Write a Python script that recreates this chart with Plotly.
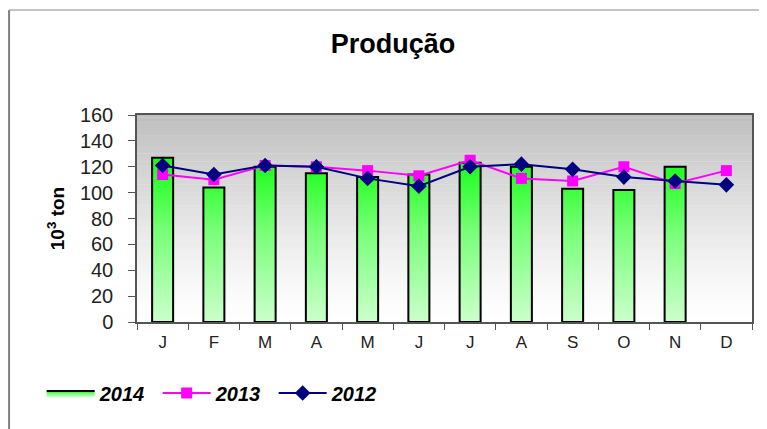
import plotly.graph_objects as go

months = ["J", "F", "M", "A", "M", "J", "J", "A", "S", "O", "N", "D"]
prod_2014 = [127, 104, 120, 115, 112, 114, 123, 120, 103, 102, 120, None]
prod_2013 = [114, 110, 121, 120, 117, 113, 125, 111, 109, 120, 107, 117]
prod_2012 = [121, 114, 121, 120, 111, 105, 120, 122, 118, 112, 109, 106]
y_ticks = [0, 20, 40, 60, 80, 100, 120, 140, 160]

BAR_HALF = 0.205
FONT = "Liberation Sans, Arial, sans-serif"

# bars as filled polygons (to allow vertical gradient fill)
bx, by = [], []
for i, v in enumerate(prod_2014):
    if v is None:
        continue
    bx += [i - BAR_HALF, i - BAR_HALF, i + BAR_HALF, i + BAR_HALF, i - BAR_HALF, None]
    by += [0, v, v, 0, 0, None]

fig = go.Figure()
fig.add_trace(go.Scatter(
    x=bx, y=by, mode="lines", fill="toself", name="2014",
    line=dict(color="black", width=2),
    fillgradient=dict(type="vertical", start=0, stop=128,
                      colorscale=[[0, "#ccffcc"], [0.55, "#77ff77"], [1, "#11ff11"]]),
    hoverinfo="skip",
))
xs = list(range(len(months)))
fig.add_trace(go.Scatter(
    x=xs, y=prod_2013, mode="lines+markers", name="2013",
    line=dict(color="#ff00ff", width=2),
    marker=dict(symbol="square", size=11, color="#ff00ff"),
))
fig.add_trace(go.Scatter(
    x=xs, y=prod_2012, mode="lines+markers", name="2012",
    line=dict(color="#000080", width=2),
    marker=dict(symbol="diamond", size=12, color="#000080"),
))

# plot-area vertical gradient background
shapes = []
N = 80
for k in range(N):
    t = (k + 0.5) / N
    g = int(round(255 - (255 - 190) * (t ** 1.3)))
    shapes.append(dict(type="rect", xref="x domain", yref="y domain",
                       x0=0, x1=1, y0=k / N, y1=(k + 1) / N + 0.002,
                       fillcolor=f"rgb({g},{g},{g})", line=dict(width=0), layer="below"))
# outer frame lines
shapes.append(dict(type="line", xref="paper", yref="paper", x0=-0.208, x1=-0.208,
                   y0=-1, y1=1.507, line=dict(color="#808080", width=2)))
shapes.append(dict(type="line", xref="paper", yref="paper", x0=-0.208, x1=2,
                   y0=1.507, y1=1.507, line=dict(color="#b0b0b0", width=1.5)))

fig.update_layout(
    width=767, height=429,
    margin=dict(l=129, r=23, t=107, b=115, autoexpand=False),
    paper_bgcolor="white", plot_bgcolor="white",
    font=dict(family=FONT, color="black"),
    title=dict(text="<b>Produção</b>", x=0.502, xanchor="center", y=0.916, yanchor="middle",
               font=dict(size=27, family=FONT, color="black")),
    shapes=shapes,
    showlegend=True,
    legend=dict(orientation="h", x=-0.155, xanchor="left", y=-0.343, yanchor="middle",
                font=dict(size=20, family=FONT, weight="bold", style="italic"),
                bgcolor="rgba(0,0,0,0)", itemwidth=48, entrywidth=53, tracegroupgap=0),
    xaxis=dict(
        range=[-0.5, 11.5], tickmode="array", tickvals=xs, ticktext=months,
        ticks="", showgrid=False, zeroline=False, automargin=False,
        showline=True, linecolor="#555555", linewidth=1.5, mirror=True,
        tickfont=dict(size=17, family=FONT, color="#222"), ticklabelstandoff=4,
        minor=dict(tickmode="linear", tick0=-0.5, dtick=1, ticks="outside",
                   ticklen=6, tickcolor="#555555", showgrid=False),
    ),
    yaxis=dict(
        range=[0, 160], tickmode="array", tickvals=y_ticks,
        ticks="outside", ticklen=7, tickcolor="#555555",
        showgrid=False, zeroline=False, automargin=False,
        showline=True, linecolor="#555555", linewidth=1.5, mirror=True,
        tickfont=dict(size=20, family=FONT, color="#222"), ticklabelstandoff=11,
        title=dict(text="<b>10<sup>3</sup> ton</b>", standoff=10,
                   font=dict(size=19, family=FONT, color="black")),
    ),
)

fig.write_html("out.html")
